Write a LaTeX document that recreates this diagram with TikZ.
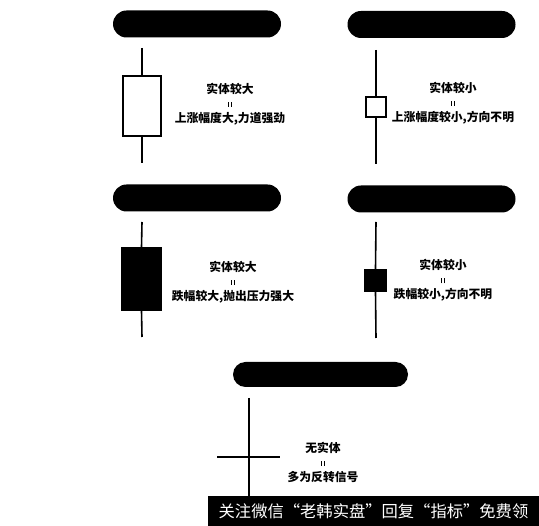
\documentclass[tikz,border=0pt]{standalone}
\usepackage{fontspec}
\newfontfamily\cjk{Noto Sans CJK SC}
\usetikzlibrary{positioning}
\tikzset{
	x = 1pt, y = -1pt,
	semithick,
	bar/.style = {fill=black, minimum width=168pt, minimum height=27pt,
		rounded corners=13.5pt, inner sep=0pt},
	note/.style = {align=center, inner sep=0pt,
		font=\cjk\bfseries\fontsize{11.8}{14.5}\selectfont},
	body/.style = {draw=black, line width=1.6pt, inner sep=0pt},
	wick/.style = {line width=1.6pt},
	banner/.style = {fill=black, text=white, inner sep=0pt,
		minimum width=331pt, minimum height=30pt,
		font=\cjk\fontsize{16.3}{18}\selectfont},
}
\newcommand{\eqsign}{\rule[1pt]{1pt}{5pt}\hspace{1.3pt}\rule[1pt]{1pt}{5pt}}
\begin{document}
\begin{tikzpicture}
	\useasboundingbox (0,0) rectangle (539,526);
	% title bars
	\node (bar1) [bar] at (197,24) {};
	\node (bar2) [bar] at (431.5,24.5) {};
	\node (bar3) [bar] at (197,198) {};
	\node (bar4) [bar] at (431.5,199) {};
	\node (bar5) [bar, minimum width=175pt, minimum height=25pt, rounded corners=12.5pt] at (320.5,374.5) {};
	% big white body
	\node (body1) [body, fill=white, minimum width=38pt, minimum height=60pt] at (142,106) {};
	\coordinate (top1) at (142,48);
	\coordinate (bot1) at (142,163);
	\draw[wick] (top1) -- (body1.north);
	\draw[wick] (body1.south) -- (bot1);
	\node (note1) [note] at (230,104) {实体较大\\\eqsign\\上涨幅度大,力道强劲};
	% small white body
	\node (body2) [body, fill=white, minimum width=20pt, minimum height=20pt] at (376,107) {};
	\coordinate (top2) at (376,50);
	\coordinate (bot2) at (376,164);
	\draw[wick] (top2) -- (body2.north);
	\draw[wick] (body2.south) -- (bot2);
	\node (note2) [note] at (453,103) {实体较小\\\eqsign\\上涨幅度较小,方向不明};
	% big black body
	\node (body3) [body, fill=black, minimum width=39pt, minimum height=62pt] at (141.5,279) {};
	\coordinate (top3) at (142,222);
	\coordinate (bot3) at (142,337);
	\draw[wick] (top3) -- (body3.north);
	\draw[wick] (body3.south) -- (bot3);
	\node (note3) [note] at (233,282) {实体较大\\\eqsign\\跌幅较大,抛出压力强大};
	% small black body
	\node (body4) [body, fill=black, minimum width=21pt, minimum height=21pt] at (375.5,280.5) {};
	\coordinate (top4) at (376,222);
	\coordinate (bot4) at (376,338);
	\draw[wick] (top4) -- (body4.north);
	\draw[wick] (body4.south) -- (bot4);
	\node (note4) [note] at (443,280.5) {实体较小\\\eqsign\\跌幅较小,方向不明};
	% cross
	\coordinate (top5) at (249,398);
	\coordinate (bot5) at (249,500);
	\coordinate (left5) at (217,457);
	\coordinate (right5) at (280,457);
	\draw[wick] (top5) -- (bot5);
	\draw[wick] (left5) -- (right5);
	\node (note5) [note] at (323,462) {无实体\\\eqsign\\多为反转信号};
	% watermark
	\node (band) [banner] at (373.5,511) {关注微信“老韩实盘”回复“指标”免费领};
\end{tikzpicture}
\end{document}
